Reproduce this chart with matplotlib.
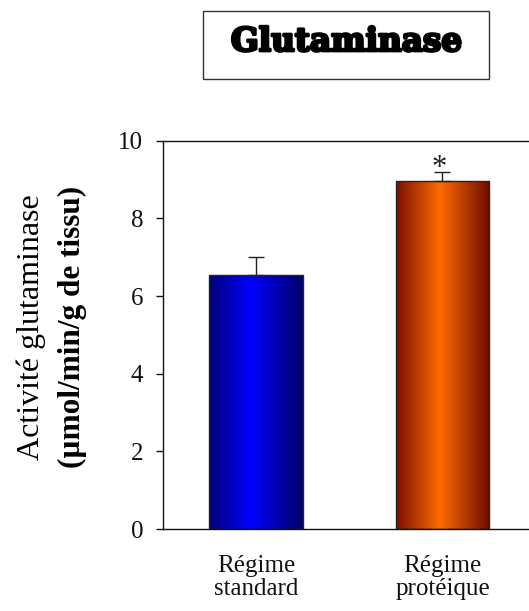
import matplotlib
matplotlib.use("Agg")
import matplotlib.pyplot as plt
import numpy as np
from matplotlib.colors import LinearSegmentedColormap
from matplotlib.patches import Rectangle
import matplotlib.patheffects as pe

# Data
categories = ["Régime\nstandard", "Régime\nprotéique"]
values = [6.54, 8.97]
errors = [0.46, 0.22]
yticks = [0, 2, 4, 6, 8, 10]

serif = ["Liberation Serif", "DejaVu Serif"]
plt.rcParams["font.family"] = serif

W, H = 529, 611
fig = plt.figure(figsize=(W / 100, H / 100), dpi=100)

ax_left, ax_right, ax_top, ax_bottom = 162.7, 529, 140.7, 529
ax = fig.add_axes([ax_left / W, (H - ax_bottom) / H,
                   (ax_right - ax_left) / W, (ax_bottom - ax_top) / H])

x = np.arange(1, len(values) + 1)
bar_width = 0.5

cmaps = [
    LinearSegmentedColormap.from_list(
        "blue_shade", [(0.0, "#00007a"), (0.44, "#0000ff"), (1.0, "#000066")]),
    LinearSegmentedColormap.from_list(
        "orange_shade", [(0.0, "#7a1000"), (0.47, "#ff6a00"), (1.0, "#6e0c00")]),
]

bars = ax.bar(x, values, width=bar_width, facecolor="none",
              edgecolor="#222222", linewidth=1.0, zorder=3)
grad = np.linspace(0, 1, 256).reshape(1, -1)
for rect, cmap in zip(bars, cmaps):
    x0, w, h = rect.get_x(), rect.get_width(), rect.get_height()
    im = ax.imshow(grad, cmap=cmap, aspect="auto",
                   extent=[x0, x0 + w, 0, h], zorder=2,
                   interpolation="bilinear")
    im.set_clip_path(rect)

ax.errorbar(x, values, yerr=[np.zeros(len(errors)), errors], fmt="none",
            ecolor="#222222", elinewidth=1.0, capsize=6, capthick=1.0, zorder=4)

# significance mark (the glyph sits high in its em box, so anchor on the baseline)
ax.text(x[1] - 0.02, values[1] + errors[1] - 0.09, "*", ha="center",
        va="baseline", fontsize=22, color="#222222", zorder=5)

ax.set_xlim(0.5, 2.464)
ax.set_ylim(0, 10)
ax.set_yticks(yticks)
ax.set_yticklabels([str(t) for t in yticks])
ax.set_xticks(x)
ax.set_xticklabels(categories, linespacing=1.05)

for s in ["left", "top", "bottom"]:
    ax.spines[s].set_linewidth(1.0)
    ax.spines[s].set_color("#111111")
ax.spines["right"].set_visible(False)

ax.tick_params(axis="y", direction="out", length=5, width=1, pad=9,
               labelsize=18, colors="#111111")
ax.tick_params(axis="x", length=0, pad=19, labelsize=18, colors="#111111")

# axis label in two lines of different weight
fig.text(31 / W, (H - 327) / H, "Activité glutaminase", rotation=90,
         ha="center", va="center", fontsize=23, family=serif)
fig.text(72 / W, (H - 327) / H, "(µmol/min/g de tissu)", rotation=90,
         ha="center", va="center", fontsize=22.5, fontweight="bold", family=serif)

# boxed title
fig.patches.append(Rectangle((203 / W, (H - 79) / H), (489 - 203) / W, (79 - 11) / H,
                             transform=fig.transFigure, facecolor="white",
                             edgecolor="#333333", linewidth=1.0))
fig.text(346.5 / W, (H - 51) / H, "Glutaminase", ha="center", va="baseline",
         fontsize=23.5, fontweight="bold", family=["DejaVu Serif"],
         path_effects=[pe.withStroke(linewidth=2.0, foreground="black")])

fig.savefig("out.png", dpi=100)
